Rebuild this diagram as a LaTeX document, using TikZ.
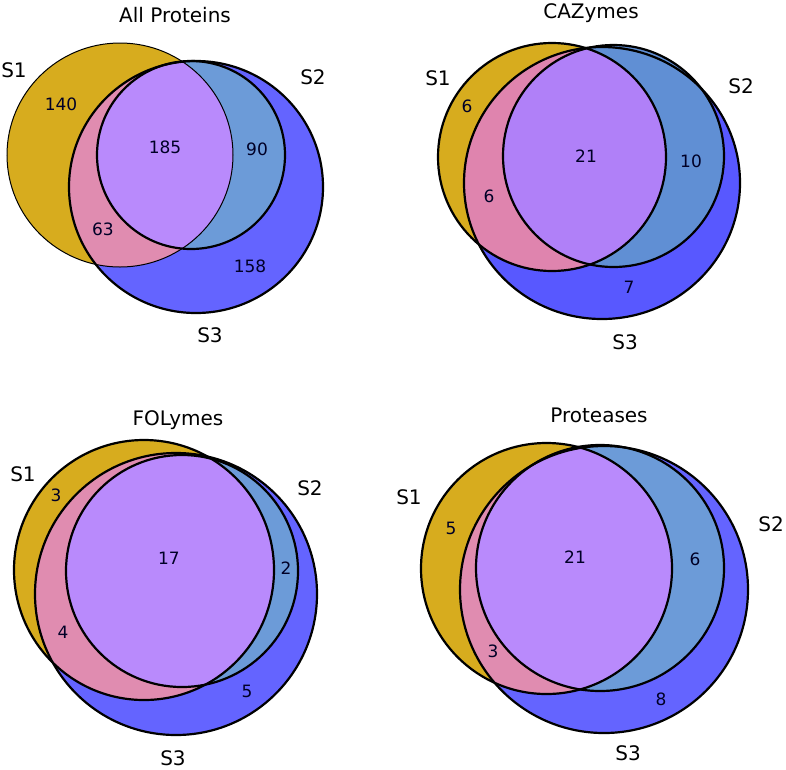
\documentclass[tikz,border=0pt]{standalone}
\usepackage{fontspec}
\setmainfont{DejaVu Sans}
\definecolor{cgold}{RGB}{215,172,30}
\definecolor{cpink}{RGB}{224,140,176}
\definecolor{cpurple}{RGB}{185,138,252}
\definecolor{clblue}{RGB}{108,155,216}
\definecolor{cblue}{RGB}{100,100,255}
\definecolor{cpurpleB}{RGB}{176,128,248}
\definecolor{clblueB}{RGB}{96,143,212}
\definecolor{cblueB}{RGB}{88,88,255}
\definecolor{cpinkB}{RGB}{223,132,174}
\newcommand{\vennfill}[8]{%
  \fill[#4] #1; \fill[#8] #3; \fill[#7] #2;
  \begin{scope}\clip #1; \fill[#5] #3; \fill[#6] #2; \end{scope}%
}
\tikzset{
  ttl/.style={font=\fontsize{20}{24}\selectfont, inner sep=0pt},
  setlbl/.style={font=\fontsize{20}{24}\selectfont, inner sep=0pt},
  num/.style={font=\fontsize{17}{20}\selectfont, text=black!85!blue, inner sep=0pt},
  thickline/.style={draw=black, line width=2.2pt},
  thinline/.style={draw=black, line width=1pt}
}
\begin{document}
\begin{tikzpicture}[x=1pt,y=-1pt]
\useasboundingbox (0,0) rectangle (786,769);
\fill[white] (0,0) rectangle (786,769);
% ---------------- Panel 1: All Proteins
\vennfill{(120,155) ellipse [x radius=113, y radius=112]}{(191,155) ellipse [x radius=94, y radius=94]}{(196,187) ellipse [x radius=127, y radius=126]}{cgold}{cpink}{cpurple}{clblue}{cblue}
\draw[thinline] (120,155) ellipse [x radius=113, y radius=112];
\draw[thickline] (196,187) ellipse [x radius=127, y radius=126];
\draw[thickline] (191,155) ellipse [x radius=94, y radius=94];
\node[ttl] (t1) at (175,15) {All Proteins};
\node[setlbl] (a1) at (14,70) {S1};
\node[setlbl] (a2) at (313,77) {S2};
\node[setlbl] (a3) at (210,335) {S3};
\node[num] (n1a) at (61,104) {140};
\node[num] (n1b) at (165,147) {185};
\node[num] (n1c) at (257,149) {90};
\node[num] (n1d) at (103,229) {63};
\node[num] (n1e) at (250,266) {158};
% ---------------- Panel 2: CAZymes
\vennfill{(552,157) ellipse [x radius=114, y radius=114]}{(613.5,156) ellipse [x radius=110.5, y radius=111]}{(602,183) ellipse [x radius=138, y radius=136]}{cgold}{cpinkB}{cpurpleB}{clblueB}{cblueB}
\draw[thickline] (552,157) ellipse [x radius=114, y radius=114];
\draw[thickline] (602,183) ellipse [x radius=138, y radius=136];
\draw[thickline] (613.5,156) ellipse [x radius=110.5, y radius=111];
\node[ttl] (t2) at (591,13) {CAZymes};
\node[setlbl] (b1) at (438,78) {S1};
\node[setlbl] (b2) at (741,86) {S2};
\node[setlbl] (b3) at (625,342) {S3};
\node[num] (n2a) at (467,106) {6};
\node[num] (n2b) at (586,156) {21};
\node[num] (n2c) at (691,161) {10};
\node[num] (n2d) at (489,196) {6};
\node[num] (n2e) at (629,287) {7};
% ---------------- Panel 3: FOLymes
\vennfill{(144,570) ellipse [x radius=130, y radius=130]}{(182,571) ellipse [x radius=116, y radius=116]}{(176,594) ellipse [x radius=141, y radius=141]}{cgold}{cpink}{cpurple}{clblue}{cblue}
\draw[thickline] (144,570) ellipse [x radius=130, y radius=130];
\draw[thickline] (176,594) ellipse [x radius=141, y radius=141];
\draw[thickline] (182,571) ellipse [x radius=116, y radius=116];
\node[ttl] (t3) at (178,420) {FOLymes};
\node[setlbl] (c1) at (23,474) {S1};
\node[setlbl] (c2) at (310,488) {S2};
\node[setlbl] (c3) at (173,758) {S3};
\node[num] (n3a) at (56,495) {3};
\node[num] (n3b) at (169,558) {17};
\node[num] (n3c) at (286,568) {2};
\node[num] (n3d) at (63,632) {4};
\node[num] (n3e) at (247,691) {5};
% ---------------- Panel 4: Proteases
\vennfill{(546.5,568.5) ellipse [x radius=125.5, y radius=125.5]}{(600,568) ellipse [x radius=124, y radius=123]}{(604,589.5) ellipse [x radius=144, y radius=143.5]}{cgold}{cpink}{cpurple}{clblue}{cblue}
\draw[thickline] (546.5,568.5) ellipse [x radius=125.5, y radius=125.5];
\draw[thickline] (604,589.5) ellipse [x radius=144, y radius=143.5];
\draw[thickline] (600,568) ellipse [x radius=124, y radius=123];
\node[ttl] (t4) at (599,415) {Proteases};
\node[setlbl] (d1) at (409,497) {S1};
\node[setlbl] (d2) at (771,524) {S2};
\node[setlbl] (d3) at (628,753) {S3};
\node[num] (n4a) at (451,528) {5};
\node[num] (n4b) at (575,557) {21};
\node[num] (n4c) at (695,559) {6};
\node[num] (n4d) at (493,651) {3};
\node[num] (n4e) at (661,699) {8};
\end{tikzpicture}
\end{document}
